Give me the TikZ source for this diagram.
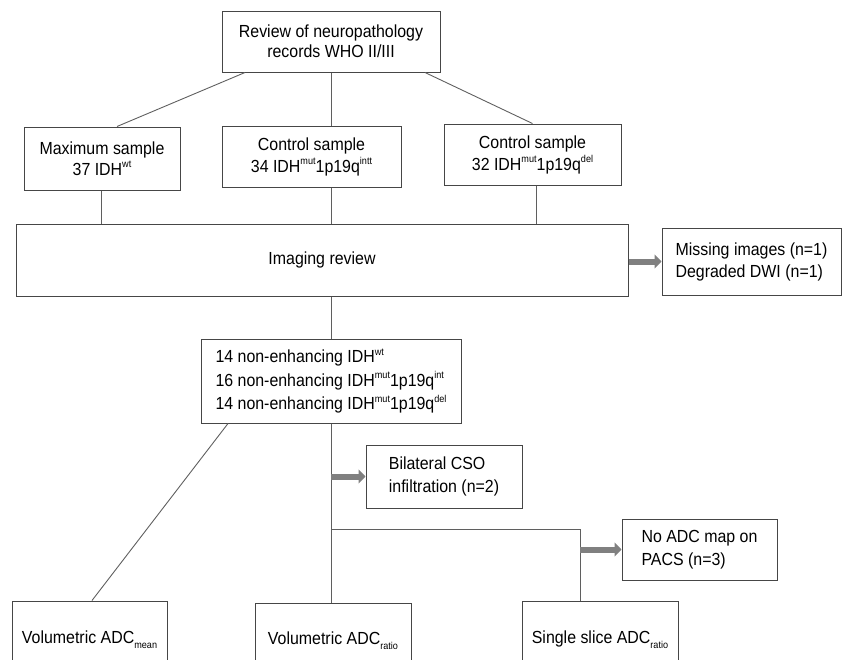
\documentclass[tikz,border=0pt]{standalone}
\usepackage{fontspec}
\setmainfont{Liberation Sans}[FakeStretch=0.91]
\usepackage{xcolor}
\usetikzlibrary{calc,arrows.meta}
\definecolor{flowline}{RGB}{95, 95, 95}
\definecolor{flowedge}{RGB}{70, 70, 70}
\definecolor{flowarrow}{RGB}{128, 128, 128}
\newcommand{\upidx}[1]{\raisebox{0.42em}{\fontsize{10}{10}\selectfont #1}}
\newcommand{\dnidx}[1]{\raisebox{-0.3em}{\fontsize{10}{10}\selectfont #1}}

\begin{document}
\begin{tikzpicture}[x=1pt, y=-1pt,
  flowbox/.style={draw=flowedge, line width=1pt, fill=white, inner sep=0pt, align=center, font=\fontsize{17.5}{22}\selectfont},
  flowlink/.style={draw=flowline, line width=0.9pt},
  exclude/.style={draw=flowarrow, line width=6pt, -{Triangle[length=7pt, width=14pt]}}
]
\useasboundingbox (0,0) rectangle (842,659);
\clip (0,0) rectangle (842,659);

% selection
\node[flowbox, minimum width=218pt, minimum height=61pt, font=\fontsize{17.5}{20}\selectfont] (review) at (331,41.5) {Review of neuropathology\\records WHO II/III};
\node[flowbox, minimum width=156pt, minimum height=63pt, font=\fontsize{17.5}{21}\selectfont] (maxs) at (102,158.5) {Maximum sample\\37 IDH\upidx{wt}};
\node[flowbox, minimum width=179pt, minimum height=61pt] (ctrlint) at (311.5,156.5) {Control sample\\34 IDH\upidx{mut}1p19q\upidx{intt}};
\node[flowbox, minimum width=177pt, minimum height=61pt] (ctrldel) at (532.5,154.5) {Control sample\\32 IDH\upidx{mut}1p19q\upidx{del}};

% imaging
\node[flowbox, minimum width=612pt, minimum height=72pt] (imaging) at (322,260) {Imaging review};
\node[flowbox, minimum width=179pt, minimum height=67pt, align=left] (missing) at (751.5,261.5) {Missing images (n=1)\\Degraded DWI (n=1)};
\node[flowbox, minimum width=260pt, minimum height=84pt, align=left, font=\fontsize{17.5}{23.5}\selectfont] (nonenh) at (331,381) {14 non-enhancing IDH\upidx{wt}\\16 non-enhancing IDH\upidx{mut}1p19q\upidx{int}\\14 non-enhancing IDH\upidx{mut}1p19q\upidx{del}};

% exclusions
\node[flowbox, minimum width=156pt, minimum height=63pt, align=left, font=\fontsize{17.5}{23}\selectfont] (bilat) at (444,476.5) {Bilateral CSO\\infiltration (n=2)};
\node[flowbox, minimum width=155pt, minimum height=61pt, align=left, font=\fontsize{17.5}{23}\selectfont] (noadc) at (699.5,549.5) {No ADC map on\\PACS (n=3)};

% measures
\node[flowbox, minimum width=155pt, minimum height=78pt] (volmean) at (89.5,640) {Volumetric ADC\dnidx{mean}};
\node[flowbox, minimum width=156pt, minimum height=76pt] (volratio) at (333,641) {Volumetric ADC\dnidx{ratio}};
\node[flowbox, minimum width=156pt, minimum height=78pt] (single) at (600,640) {Single slice ADC\dnidx{ratio}};
\coordinate (split) at (580,529);

% links
\draw[flowlink] ([xshift=-86pt]review.south) -- ([xshift=15pt]maxs.north);
\draw[flowlink] (review.south) -- (review.south |- ctrlint.north);
\draw[flowlink] ([xshift=94pt]review.south) -- (ctrldel.north);
\draw[flowlink] ([xshift=-1pt]maxs.south) -- ([xshift=-1pt]maxs.south |- imaging.north);
\draw[flowlink] (review.south |- ctrlint.south) -- (review.south |- imaging.north);
\draw[flowlink] ([xshift=4pt]ctrldel.south) -- ([xshift=4pt]ctrldel.south |- imaging.north);
\draw[flowlink] (nonenh.north |- imaging.south) -- (nonenh.north);
\draw[exclude] (imaging.east |- missing.west) -- (missing.west);
\draw[flowlink] ([xshift=-103pt]nonenh.south) -- ([xshift=2.5pt]volmean.north);
\draw[flowlink] (nonenh.south) -- (nonenh.south |- volratio.north);
\draw[exclude] (nonenh.south |- bilat.west) -- (bilat.west);
\draw[flowlink] (nonenh.south |- split) -| (split |- single.north);
\draw[exclude] (split |- noadc.west) -- (noadc.west);
\end{tikzpicture}
\end{document}
